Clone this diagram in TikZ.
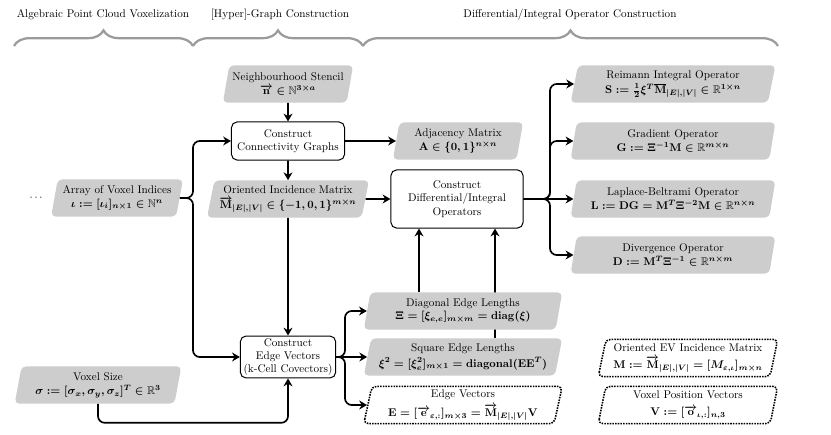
\documentclass[tikz,border=0pt]{standalone}
\usepackage{amsmath, amssymb, bm}
\usepackage{tikz}
\usetikzlibrary{positioning, shapes, arrows.meta, decorations.pathreplacing, calc, backgrounds}
\definecolor{DataGray}{RGB}{205, 205, 205}
\definecolor{BraceGray}{RGB}{155, 155, 155}

\tikzset{
  data/.style={trapezium, trapezium left angle=76, trapezium right angle=104,
    trapezium stretches body, fill=DataGray, rounded corners=4pt, align=center,
    inner sep=1pt, minimum height=1.17cm, font=\boldmath},
  dataext/.style={data, fill=none, draw, densely dotted, line width=1.4pt},
  proc/.style={draw, rounded corners=5pt, fill=white, align=center, line width=0.9pt, inner sep=2pt},
  link/.style={line width=1.5pt, -{Stealth[length=7pt, width=8pt]}, rounded corners=6pt},
  phase/.style={draw=BraceGray, line width=2pt, decorate, decoration={brace, amplitude=14pt}}
}

\begin{document}
\begin{tikzpicture}[x=0.0315cm, y=-0.0315cm]
    \useasboundingbox (0,0) rectangle (831,435);

    % Phases
    \draw[phase] (14,46) -- (193,46);
    \draw[phase] (193,46) -- (363,46);
    \draw[phase] (363,46) -- (778,46);
    \node (ph1) at (103,15) {Algebraic Point Cloud Voxelization};
    \node (ph2) at (280,15) {[Hyper]-Graph Construction};
    \node (ph3) at (570,15) {Differential/Integral Operator Construction};

    % Inputs
    \node (dots) at (37,198) {$\cdots$};
    \node[data, minimum width=4.15cm] (voxidx) at (117,198) {Array of Voxel Indices\\$\iota := [\iota_i]_{n\times 1}\in\mathbb{N}^n$};
    \node[data, minimum width=5.25cm] (voxsize) at (98,385) {Voxel Size\\[1pt]$\sigma := [\sigma_x,\sigma_y,\sigma_z]^T\in\mathbb{R}^3$};
    \node[data, minimum width=4.1cm] (stencil) at (288,84) {Neighbourhood Stencil\\[1pt]$\overrightarrow{\mathbf{n}}\in\mathbb{N}^{3\times a}$};

    % Graph construction
    \node[proc, minimum width=3.56cm, minimum height=1.2cm] (cgraph) at (288,141) {Construct\\Connectivity Graphs};
    \node[data, minimum width=4.1cm] (adj) at (458,141) {Adjacency Matrix\\$\mathbf{A}\in\{0,1\}^{n\times n}$};
    \node[data, minimum width=5.1cm] (inc) at (288,199) {Oriented Incidence Matrix\\[2pt]$\overrightarrow{\mathbf{M}}_{|E|,|V|}\in\{-1,0,1\}^{m\times n}$};
    \node[proc, minimum width=3cm, minimum height=1.32cm] (cedge) at (288,357) {Construct\\Edge Vectors\\(k-Cell Covectors)};
    \node[proc, minimum width=4.16cm, minimum height=1.83cm] (cops) at (457,199) {Construct\\Differential/Integral\\Operators};

    % Edge quantities
    \node[data, minimum width=6.25cm] (diag) at (463,311) {Diagonal Edge Lengths\\$\Xi = [\xi_{e,e}]_{m\times m} = \mathbf{diag}(\xi)$};
    \node[data, minimum width=6.25cm] (sqlen) at (463,357) {Square Edge Lengths\\[2pt]$\xi^2 = [\xi_e^2]_{m\times 1} = \mathbf{diagonal}(\mathbf{E}\mathbf{E}^T)$};
    \node[dataext, minimum width=6.25cm] (evec) at (463,405) {Edge Vectors\\[3pt]$\mathbf{E} = [\overrightarrow{\mathbf{e}}_{\varepsilon,:}]_{m\times 3} = \overrightarrow{\mathbf{M}}_{|E|,|V|}\mathbf{V}$};

    % Operators
    \node[data, minimum width=6.45cm] (reim) at (673,84) {Reimann Integral Operator\\[2pt]$\mathbf{S} := \tfrac{1}{2}\xi^T\overline{\mathbf{M}}_{|E|,|V|}\in\mathbb{R}^{1\times n}$};
    \node[data, minimum width=6.45cm] (grad) at (673,141) {Gradient Operator\\$\mathbf{G} := \Xi^{-1}\mathbf{M}\in\mathbb{R}^{m\times n}$};
    \node[data, minimum width=6.45cm] (lap) at (673,199) {Laplace-Beltrami Operator\\$\mathbf{L} := \mathbf{DG} = \mathbf{M}^T\Xi^{-2}\mathbf{M}\in\mathbb{R}^{n\times n}$};
    \node[data, minimum width=6.45cm] (div) at (673,255) {Divergence Operator\\$\mathbf{D} := \mathbf{M}^T\Xi^{-1}\in\mathbb{R}^{n\times m}$};

    % Legend
    \node[dataext, minimum width=5.65cm] (evinc) at (688,358) {Oriented EV Incidence Matrix\\[3pt]$\mathbf{M} := \overrightarrow{\mathbf{M}}_{|E|,|V|} = [M_{\varepsilon,\iota}]_{m\times n}$};
    \node[dataext, minimum width=5.65cm] (vpos) at (688,405) {Voxel Position Vectors\\[3pt]$\mathbf{V} := [\overrightarrow{\mathbf{o}}_{\iota,:}]_{n,3}$};

    % Junctions
    \coordinate (jidx) at (193,198);
    \coordinate (jedge) at (345,357);
    \coordinate (jops) at (550,199);
    \coordinate (opsL) at ($(cops.south)+(-38,0)$);
    \coordinate (opsR) at ($(cops.south)+(38,0)$);

    % Arrows
    \draw[link] (stencil.south) -- (cgraph.north);
    \draw[link] (voxidx.east) -- (jidx) |- (cgraph.west);
    \draw[link] (voxidx.east) -- (jidx) |- (cedge.west);
    \draw[link] (cgraph.east) -- (adj.west);
    \draw[link] (cgraph.south) -- (inc.north);
    \draw[link] (inc.east) -- (cops.west);
    \draw[link] (inc.south) -- (cedge.north);
    \draw[link] (voxsize.south) -- ++(0,19) -| (cedge.south);
    \draw[link] (cedge.east) -- (jedge) |- (diag.west);
    \draw[link] (cedge.east) -- (sqlen.west);
    \draw[link] (cedge.east) -- (jedge) |- (evec.west);
    \draw[link] (diag.north -| opsL) -- (opsL);
    \begin{scope}[on background layer]
      \draw[link] (sqlen.north -| opsR) -- (opsR);
    \end{scope}
    \draw[link] (cops.east) -- (jops) |- (reim.west);
    \draw[link] (cops.east) -- (jops) |- (grad.west);
    \draw[link] (cops.east) -- (lap.west);
    \draw[link] (cops.east) -- (jops) |- (div.west);
  \end{tikzpicture}
\end{document}
